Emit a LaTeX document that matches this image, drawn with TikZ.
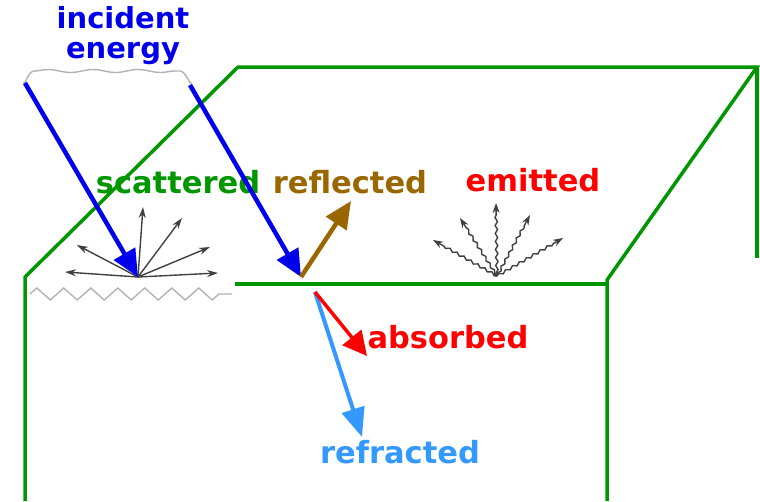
\documentclass[tikz,border=0pt]{standalone}
\usepackage{fontspec}
\setmainfont{DejaVu Sans}
\usetikzlibrary{arrows.meta,decorations.pathmorphing}
\definecolor{incblue}{RGB}{0,0,235}
\definecolor{boxgreen}{RGB}{0,150,0}
\definecolor{refbrown}{RGB}{153,102,0}
\definecolor{refrblue}{RGB}{51,153,255}
\tikzset{
	lbl/.style={font=\fontsize{30.5}{30}\selectfont\bfseries},
	edge/.style={boxgreen,line width=3.5pt},
	ray/.style={line width=4.5pt,-{Triangle[length=27pt,width=24pt]}},
	spray/.style={gray!50!black,line width=1.4pt,-{Stealth[length=11pt,width=7pt]}},
	glow/.style={gray!50!black,line width=1.4pt,decorate,
		decoration={snake,amplitude=1.2pt,segment length=8pt,post length=9pt},
		-{Stealth[length=10pt,width=7pt]}},
}
\begin{document}
\begin{tikzpicture}[x=1pt,y=-1pt]
	\useasboundingbox (0,0) rectangle (760,501);
	% the block
	\draw[edge,line join=miter] (25,501) -- (25,277) -- (238,67) -- (757,67) -- (607,280) -- (607,501);
	\draw[edge] (757,67) -- (757,258);
	\draw[edge] (235,284) -- (607,284);
	\draw[gray!60,line width=1.4pt,decorate,decoration={zigzag,segment length=27pt,amplitude=6pt}]
		(30,294) -- (232,294);
	% incident bundle
	\draw[gray!60,line width=1.4pt] (24,82) to[out=-90,in=180] (34,71);
	\draw[gray!60,line width=1.4pt,decorate,decoration={snake,amplitude=1.5pt,segment length=45pt}]
		(34,71) -- (180,71);
	\draw[gray!60,line width=1.4pt] (180,71) to[out=0,in=-90] (191,82);
	\node[lbl,incblue,align=center,font=\fontsize{29}{30}\selectfont\bfseries] (inc) at (123,36) {incident\\energy};
	% labels
	\node[lbl,boxgreen] (scattxt) at (178,182) {scattered};
	\node[lbl,refbrown] (refltxt) at (350,182) {reflected};
	\node[lbl,red] (emtxt) at (533,180) {emitted};
	\node[lbl,red] (abstxt) at (448,337) {absorbed};
	\node[lbl,refrblue] (refrtxt) at (400,452) {refracted};
	% points on the surface
	\coordinate (in1) at (25,83);
	\coordinate (in2) at (190,85);
	\coordinate (scat) at (138,277);
	\coordinate (hit) at (301,277);
	\coordinate (sub) at (315,292);
	\coordinate (emit) at (497,276);
	\coordinate (refl) at (351,201);
	\coordinate (abs) at (367,356);
	\coordinate (refr) at (362,437);
	% scattered and emitted sprays
	\foreach \x/\y [count=\i] in {65/272,77/245,143/207,182/218,210/247,218/273}
		\coordinate (s\i) at (\x,\y);
	\foreach \i in {1,...,6}
		\draw[spray] (scat) -- (s\i);
	\foreach \x/\y [count=\i] in {433/240,460/218,496/203,530/215,563/238}
		\coordinate (e\i) at (\x,\y);
	\foreach \i in {1,...,5}
		\draw[glow] (emit) -- (e\i);
	% rays
	\draw[ray,incblue] (in1) -- (scat);
	\draw[ray,incblue] (in2) -- (hit);
	\draw[ray,refbrown] (hit) -- (refl);
	\draw[ray,refrblue,line width=4pt,-{Triangle[length=29pt,width=23pt]}] (sub) -- (refr);
	\draw[ray,red,line width=3.5pt,-{Triangle[length=24pt,width=24pt]}] (sub) -- (abs);
\end{tikzpicture}
\end{document}
